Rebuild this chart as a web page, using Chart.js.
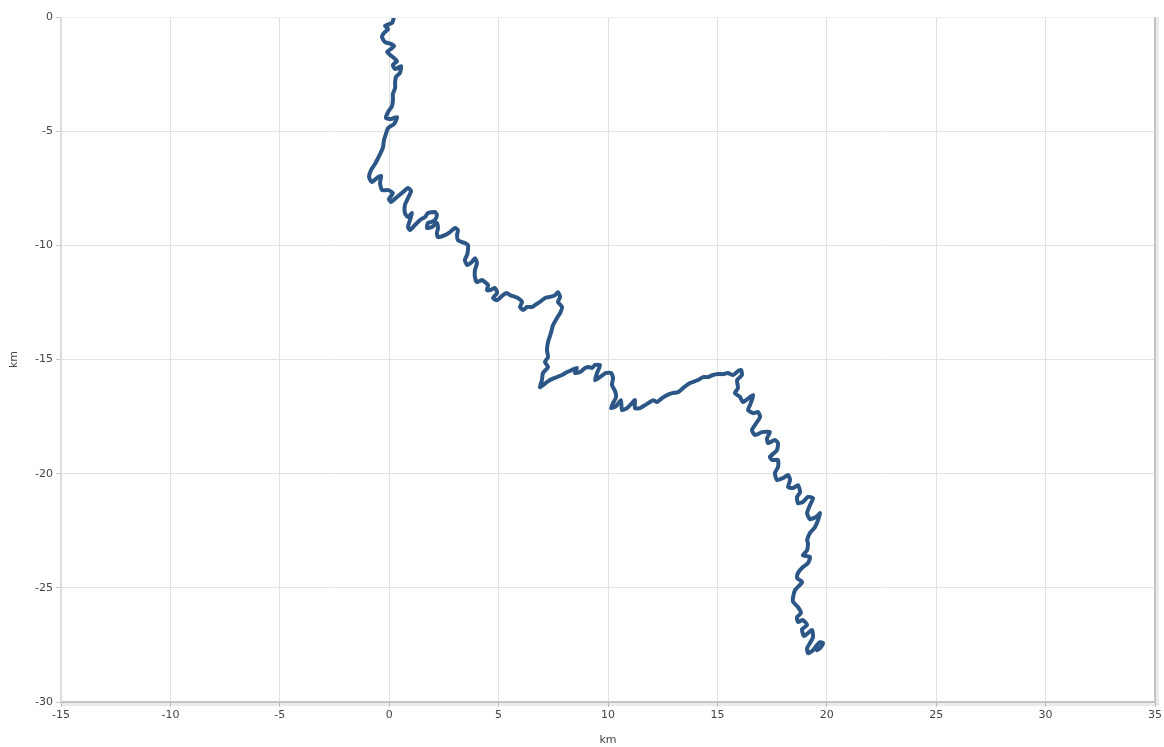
<!DOCTYPE html>
<html>
<head>
<meta charset="utf-8">
<title>Track</title>
<script src="https://cdn.jsdelivr.net/npm/chart.js@4/dist/chart.umd.min.js"></script>
<style>
  html, body { margin: 0; padding: 0; background: #fff; }
  #wrap { width: 1164px; height: 747px; }
</style>
</head>
<body>
<div id="wrap"><canvas id="canvas"></canvas></div>
<script>
// track position east of start, km
var eastKm = [
  0.22, 0.13, -0.19, -0.05, -0.24, -0.33, -0.19, 0.08, 0.22, 0.08,
  -0.10, 0.04, 0.22, 0.36, 0.17, 0.27, 0.54, 0.49, 0.31, 0.27,
  0.27, 0.17, 0.17, 0.13, -0.05, -0.15, 0.08, 0.36, 0.22, -0.05,
  -0.15, -0.24, -0.28, -0.37, -0.51, -0.65, -0.83, -0.92, -0.79, -0.56,
  -0.37, -0.42, -0.33, -0.05, 0.17, -0.01, 0.08, 0.36, 0.63, 0.86,
  1.00, 0.86, 0.72, 0.72, 0.86, 1.04, 0.95, 0.86, 0.95, 1.18,
  1.41, 1.64, 1.77, 2.09, 2.18, 2.09, 1.91, 1.77, 1.73, 1.96,
  2.18, 2.23, 2.18, 2.23, 2.55, 2.78, 3.01, 3.14, 3.10, 3.14,
  3.33, 3.46, 3.60, 3.60, 3.56, 3.46, 3.56, 3.78, 3.92, 4.01,
  3.92, 3.92, 4.01, 4.24, 4.38, 4.52, 4.47, 4.61, 4.84, 4.93,
  4.74, 4.93, 5.20, 5.38, 5.52, 5.75, 5.89, 6.07, 5.98, 6.12,
  6.30, 6.53, 6.66, 6.89, 7.12, 7.35, 7.58, 7.71, 7.81, 7.71,
  7.90, 7.81, 7.67, 7.49, 7.39, 7.26, 7.21, 7.26, 7.12, 7.26,
  7.03, 6.98, 6.89, 7.03, 7.35, 7.67, 7.90, 8.13, 8.35, 8.58,
  8.49, 8.72, 8.95, 9.13, 9.27, 9.41, 9.63, 9.50, 9.41, 9.63,
  9.91, 10.14, 10.23, 10.18, 10.32, 10.37, 10.23, 10.14, 10.37, 10.59,
  10.64, 10.87, 11.10, 11.23, 11.23, 11.46, 11.69, 11.92, 12.06, 12.24,
  12.47, 12.70, 12.93, 13.20, 13.43, 13.75, 14.11, 14.34, 14.57, 14.80,
  15.03, 15.26, 15.48, 15.71, 15.94, 16.08, 16.12, 15.90, 15.94, 15.80,
  16.03, 16.17, 16.63, 16.49, 16.40, 16.63, 16.86, 16.95, 16.81, 16.58,
  16.72, 17.04, 17.40, 17.27, 17.31, 17.63, 17.77, 17.72, 17.40, 17.50,
  17.77, 17.77, 17.63, 17.72, 18.00, 18.23, 18.32, 18.23, 18.46, 18.68,
  18.78, 18.64, 18.68, 18.91, 19.14, 19.37, 19.23, 19.10, 19.23, 19.51,
  19.69, 19.60, 19.46, 19.23, 19.10, 19.14, 19.10, 18.91, 19.23, 19.14,
  18.91, 18.68, 18.64, 18.87, 18.55, 18.46, 18.46, 18.68, 18.82, 18.64,
  18.68, 18.91, 19.10, 18.87, 18.96, 19.32, 19.37, 19.23, 19.10, 19.14,
  19.37, 19.55, 19.69, 19.83, 19.69, 19.55
];

// track position north of start, km
var northKm = [
  0.00, -0.26, -0.39, -0.53, -0.70, -0.88, -1.10, -1.18, -1.27, -1.40,
  -1.53, -1.66, -1.80, -1.93, -2.10, -2.28, -2.15, -2.45, -2.63, -2.85,
  -3.11, -3.37, -3.64, -3.90, -4.16, -4.42, -4.47, -4.38, -4.69, -4.86,
  -5.12, -5.39, -5.69, -5.91, -6.18, -6.44, -6.70, -7.01, -7.23, -7.05,
  -6.96, -7.27, -7.58, -7.58, -7.71, -7.97, -8.10, -7.88, -7.67, -7.49,
  -7.62, -7.93, -8.23, -8.59, -8.76, -8.59, -8.89, -9.20, -9.33, -9.11,
  -8.89, -8.76, -8.59, -8.54, -8.67, -8.89, -8.98, -9.02, -9.24, -9.20,
  -9.02, -9.24, -9.46, -9.64, -9.55, -9.42, -9.24, -9.33, -9.55, -9.77,
  -9.86, -9.90, -9.99, -10.21, -10.42, -10.64, -10.86, -10.73, -10.56, -10.78,
  -11.08, -11.39, -11.61, -11.52, -11.61, -11.74, -11.96, -11.96, -11.87, -12.09,
  -12.31, -12.40, -12.18, -12.09, -12.18, -12.26, -12.31, -12.48, -12.70, -12.83,
  -12.70, -12.70, -12.62, -12.48, -12.31, -12.26, -12.18, -12.05, -12.26, -12.48,
  -12.70, -12.97, -13.18, -13.49, -13.84, -14.24, -14.59, -14.89, -15.11, -15.33,
  -15.59, -15.90, -16.21, -16.12, -15.90, -15.77, -15.68, -15.55, -15.46, -15.37,
  -15.59, -15.55, -15.37, -15.33, -15.37, -15.24, -15.24, -15.59, -15.90, -15.77,
  -15.59, -15.59, -15.81, -16.12, -16.38, -16.64, -16.91, -17.13, -17.04, -16.78,
  -17.21, -17.13, -16.91, -16.78, -17.13, -17.13, -17.00, -16.86, -16.78, -16.86,
  -16.69, -16.56, -16.47, -16.43, -16.25, -16.03, -15.90, -15.77, -15.77, -15.68,
  -15.64, -15.64, -15.59, -15.68, -15.51, -15.46, -15.68, -15.90, -16.25, -16.47,
  -16.64, -16.86, -16.56, -17.00, -17.21, -17.35, -17.30, -17.52, -17.74, -18.09,
  -18.31, -18.18, -18.18, -18.44, -18.66, -18.53, -18.66, -18.97, -19.27, -19.40,
  -19.40, -19.71, -19.97, -20.28, -20.19, -20.06, -20.28, -20.59, -20.63, -20.50,
  -20.81, -21.02, -21.29, -21.24, -21.02, -21.07, -21.38, -21.73, -21.99, -21.90,
  -21.73, -22.03, -22.34, -22.60, -22.91, -23.04, -23.35, -23.57, -23.65, -23.92,
  -24.09, -24.35, -24.57, -24.75, -25.10, -25.41, -25.62, -25.84, -26.11, -26.28,
  -26.50, -26.41, -26.63, -26.81, -27.11, -26.85, -27.16, -27.42, -27.64, -27.86,
  -27.73, -27.51, -27.38, -27.42, -27.64, -27.73
];

var xRange = [-15, 35];
var yRange = [-30, 0];
var tickStep = 5;
var axisTitle = 'km';

var points = eastKm.map(function(x, i) {
  return { x: x, y: northKm[i] };
});

// frame: light left edge, heavier bottom/right edges with a soft shadow
var framePlugin = {
  id: 'frame',
  afterDraw: function(chart) {
    var a = chart.chartArea;
    var ctx = chart.ctx;
    ctx.save();
    ctx.lineCap = 'butt';
    // shadow
    ctx.strokeStyle = 'rgba(0,0,0,0.08)';
    ctx.lineWidth = 3;
    ctx.beginPath();
    ctx.moveTo(a.left, a.bottom + 2.5);
    ctx.lineTo(a.right + 2.5, a.bottom + 2.5);
    ctx.lineTo(a.right + 2.5, a.top);
    ctx.stroke();
    // edges
    ctx.strokeStyle = '#c4c4c4';
    ctx.lineWidth = 2;
    ctx.beginPath();
    ctx.moveTo(a.left, a.bottom);
    ctx.lineTo(a.right, a.bottom);
    ctx.lineTo(a.right, a.top);
    ctx.stroke();
    ctx.strokeStyle = '#f0f0f0';
    ctx.lineWidth = 1;
    ctx.beginPath();
    ctx.moveTo(a.left, a.top + 0.5);
    ctx.lineTo(a.right, a.top + 0.5);
    ctx.stroke();
    ctx.strokeStyle = '#dcdcdc';
    ctx.lineWidth = 2;
    ctx.beginPath();
    ctx.moveTo(a.left, a.top);
    ctx.lineTo(a.left, a.bottom);
    ctx.stroke();
    ctx.restore();
  }
};

Chart.defaults.font.family = '"DejaVu Sans", Verdana, sans-serif';
Chart.defaults.font.size = 11;
Chart.defaults.color = '#444';

new Chart(document.getElementById('canvas'), {
  type: 'scatter',
  data: {
    datasets: [{
      data: points,
      showLine: true,
      borderColor: '#2b5686',
      borderWidth: 4,
      borderJoinStyle: 'round',
      borderCapStyle: 'round',
      tension: 0.2,
      pointRadius: 0,
      pointHoverRadius: 0,
      fill: false
    }]
  },
  options: {
    responsive: true,
    maintainAspectRatio: false,
    animation: false,
    layout: { padding: { top: 17, right: 9, left: 0, bottom: 0 } },
    plugins: {
      legend: { display: false },
      tooltip: { enabled: false }
    },
    scales: {
      x: {
        type: 'linear',
        min: xRange[0],
        max: xRange[1],
        afterFit: function(scale) { scale.height = 45; },
        ticks: { stepSize: tickStep, autoSkip: false, padding: 2, color: '#444' },
        grid: { color: '#e2e2e2', lineWidth: 1, tickLength: 5, tickColor: '#c8c8c8', drawOnChartArea: true },
        border: { display: false },
        title: { display: true, text: axisTitle, color: '#444', padding: { top: 4, bottom: 0 } }
      },
      y: {
        type: 'linear',
        min: yRange[0],
        max: yRange[1],
        afterFit: function(scale) { scale.width = 61; },
        ticks: { stepSize: tickStep, autoSkip: false, padding: 3, color: '#444' },
        grid: { color: '#e2e2e2', lineWidth: 1, tickLength: 5, tickColor: '#c8c8c8' },
        border: { display: false },
        title: { display: true, text: axisTitle, color: '#444', padding: { top: 8, bottom: 2 } }
      }
    }
  },
  plugins: [framePlugin]
});
</script>
</body>
</html>
